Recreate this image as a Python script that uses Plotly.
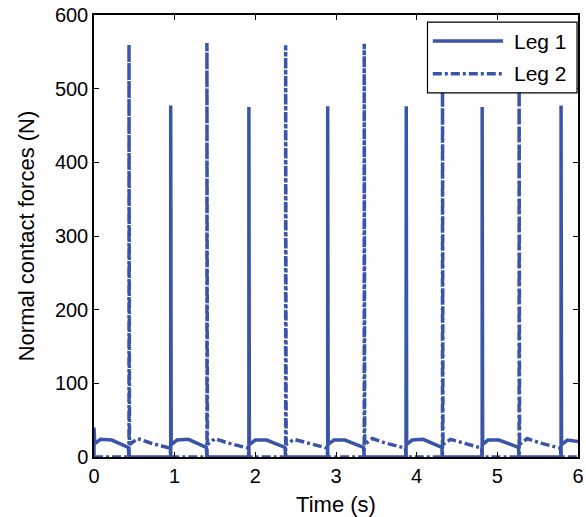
import plotly.graph_objects as go

# Leg 1 normal contact force (solid)
leg1_t = [0.000, 0.000, 0.010, 0.080, 0.220, 0.425, 0.434,
          0.951, 0.951, 0.957, 1.030, 1.170, 1.392, 1.400,
          1.920, 1.920, 1.926, 2.000, 2.140, 2.368, 2.376,
          2.897, 2.897, 2.903, 2.975, 3.110, 3.342, 3.350,
          3.868, 3.868, 3.871, 3.876, 3.945, 4.080, 4.312, 4.320,
          4.812, 4.815, 4.812, 4.818, 4.885, 5.020, 5.262, 5.270,
          5.790, 5.790, 5.796, 5.870, 6.000]
leg1_f = [0, 40, 18, 24, 23, 13, 0,
          0, 477, 17, 23, 24, 13, 0,
          0, 475, 17, 23, 23, 13, 0,
          0, 476, 17, 23, 23, 13, 0,
          0, 110, 476, 17, 23, 24, 13, 0,
          0, 250, 475, 17, 23, 23, 13, 0,
          0, 477, 17, 23, 21]

# Leg 2 normal contact force (dash-dot)
leg2_t = [0.000, 0.434, 0.434, 0.440, 0.540, 0.700, 0.944, 0.951,
          1.400, 1.400, 1.406, 1.500, 1.660, 1.912, 1.920,
          2.376, 2.376, 2.382, 2.480, 2.640, 2.890, 2.897,
          3.350, 3.350, 3.356, 3.450, 3.610, 3.862, 3.868,
          4.320, 4.320, 4.326, 4.420, 4.580, 4.806, 4.812,
          5.270, 5.270, 5.276, 5.370, 5.530, 5.783, 5.790,
          6.000]
leg2_f = [0, 0, 560, 17, 25, 19, 12, 0,
          0, 562, 17, 25, 19, 12, 0,
          0, 559, 17, 24, 19, 12, 0,
          0, 561, 17, 25, 19, 12, 0,
          0, 560, 17, 24, 19, 12, 0,
          0, 560, 17, 25, 19, 12, 0,
          0]

x_ticks = [0, 1, 2, 3, 4, 5, 6]
y_ticks = [0, 100, 200, 300, 400, 500, 600]
series_names = ["Leg 1", "Leg 2"]

color = "rgb(58,84,168)"
font = "Liberation Sans, Arial, Helvetica, sans-serif"
DASHDOT = "9px,3px,3px,3px"

fig = go.Figure()
fig.add_trace(go.Scatter(x=leg1_t, y=leg1_f, mode="lines", name=series_names[0],
                         line=dict(color=color, width=3.5), showlegend=False))
fig.add_trace(go.Scatter(x=leg2_t, y=leg2_f, mode="lines", name=series_names[1],
                         line=dict(color=color, width=3.5, dash=DASHDOT), showlegend=False))

axis_common = dict(showgrid=False, zeroline=False, showline=True, linecolor="black",
                   linewidth=1.5, mirror="allticks", ticks="inside", ticklen=5,
                   tickcolor="black", automargin=False,
                   tickfont=dict(size=20, color="black", family=font))

fig.update_xaxes(range=[0, 6], tickvals=x_ticks,
                 title=dict(text="Time (s)", font=dict(size=22, color="black", family=font), standoff=11),
                 **axis_common)
fig.update_yaxes(range=[0, 600], tickvals=y_ticks,
                 title=dict(text="Normal contact forces (N)", font=dict(size=22, color="black", family=font), standoff=14),
                 **axis_common)

# Legend drawn as a box with sample lines (paper coordinates)
shapes = [
    dict(type="rect", xref="paper", yref="paper", x0=0.689, x1=0.998, y0=0.824, y1=0.984,
         fillcolor="white", line=dict(color="black", width=1.2), layer="above"),
    dict(type="line", xref="paper", yref="paper", x0=0.700, x1=0.845, y0=0.941, y1=0.941,
         line=dict(color=color, width=3.5), layer="above"),
    dict(type="line", xref="paper", yref="paper", x0=0.700, x1=0.845, y0=0.867, y1=0.867,
         line=dict(color=color, width=3.5, dash=DASHDOT), layer="above"),
]
annotations = [
    dict(xref="paper", yref="paper", x=0.864, y=0.941, text=series_names[0], showarrow=False,
         xanchor="left", yanchor="middle", font=dict(size=21, color="black", family=font)),
    dict(xref="paper", yref="paper", x=0.864, y=0.867, text=series_names[1], showarrow=False,
         xanchor="left", yanchor="middle", font=dict(size=21, color="black", family=font)),
]

fig.update_layout(
    width=586, height=517,
    margin=dict(l=94, r=8, t=15, b=60),
    plot_bgcolor="white", paper_bgcolor="white",
    font=dict(family=font, color="black"),
    showlegend=False,
    shapes=shapes, annotations=annotations,
)

fig.write_html("out.html", config={"displayModeBar": False},
               post_script="document.body.style.margin='0';document.body.style.overflow='hidden';")
